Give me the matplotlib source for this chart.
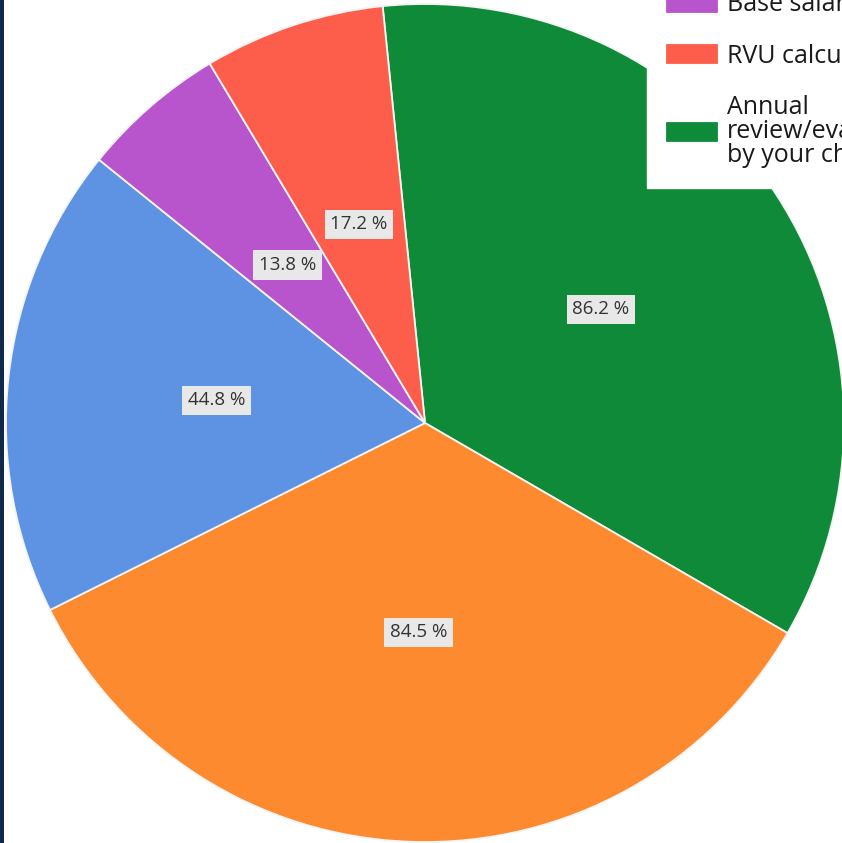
import matplotlib
matplotlib.use("Agg")
import matplotlib.pyplot as plt
from matplotlib.patches import Rectangle

# Data (drawn clockwise starting near 12 o'clock)
categories = [
    "Annual\nreview/evaluation\nby your chair",
    "Clinical productivity",
    "Academic productivity",
    "Base salary",
    "RVU calculation",
]
values = [86.2, 84.5, 44.8, 13.8, 17.2]
colors = ["#0E8A38", "#FD8A2F", "#5E93E3", "#B855CC", "#FD5E4B"]
legend_order = [3, 4, 0]  # visible legend entries (others cropped off)

W, H = 842, 843
fig = plt.figure(figsize=(W / 100, H / 100), dpi=100)
fig.patch.set_facecolor("white")

# pie centre at (425, 423) px from top-left, radius 419 px
cx, cy, r = 425, 423, 419
ax = fig.add_axes([(cx - r) / W, (H - cy - r) / H, 2 * r / W, 2 * r / H])
ax.set_xlim(-1, 1)
ax.set_ylim(-1, 1)
ax.axis("off")

total = sum(values)
wedges, texts, autotexts = ax.pie(
    values,
    colors=colors,
    startangle=95.8,
    counterclock=False,
    radius=1,
    autopct=lambda p: f"{p * total / 100:.1f} %",
    pctdistance=0.5,
    wedgeprops=dict(edgecolor="#F4F4F4", linewidth=1.3),
    textprops=dict(fontsize=13.5, color="#333333", family=["Open Sans", "DejaVu Sans"]),
)
ax.set_xlim(-1, 1)
ax.set_ylim(-1, 1)
for t in autotexts:
    t.set_bbox(dict(facecolor="#E8E8E8", edgecolor="none", boxstyle="square,pad=0.3"))

# legend (partially cropped by the figure edge)
handles = [wedges[i] for i in legend_order]
labels = [categories[i] for i in legend_order]
leg = fig.legend(
    handles, labels,
    loc="lower left",
    bbox_to_anchor=(647 / W, 1 - 188 / H),
    bbox_transform=fig.transFigure,
    frameon=True,
    fancybox=False,
    framealpha=1,
    edgecolor="white",
    facecolor="white",
    prop=dict(family=["Open Sans", "DejaVu Sans"], size=18),
    handlelength=2.0,
    handleheight=0.75,
    handletextpad=0.4,
    labelspacing=1.05,
    borderpad=0.8,
    borderaxespad=0,
)
for t in leg.get_texts():
    t.set_color("#1a1a1a")
    t.set_linespacing(0.95)
for h in leg.legend_handles:
    h.set_edgecolor(h.get_facecolor())

# dark page strip on the left
fig.add_artist(Rectangle((0, 0), 4 / W, 1, transform=fig.transFigure,
                         facecolor="#10294A", edgecolor="none", zorder=10))

fig.savefig("out.png", dpi=100, facecolor="white")
